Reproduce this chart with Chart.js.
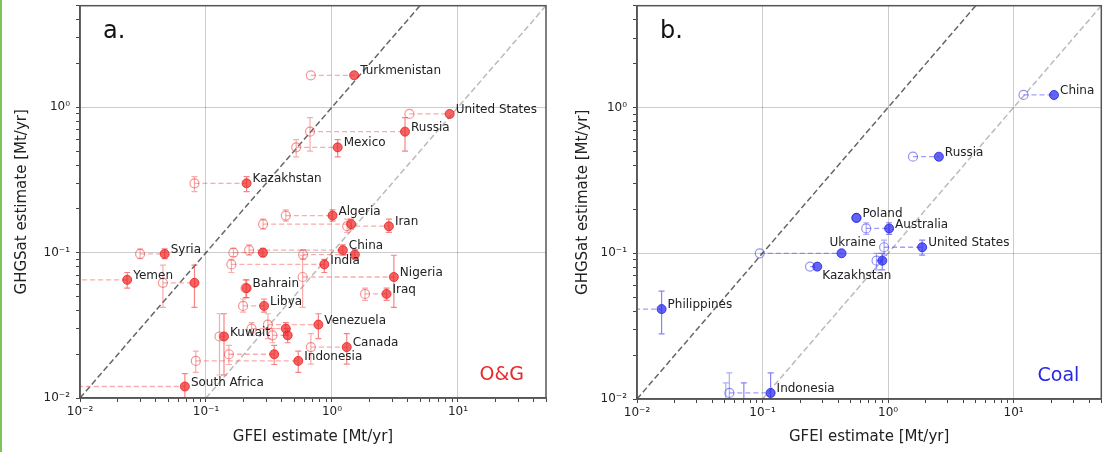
<!DOCTYPE html>
<html>
<head>
<meta charset="utf-8">
<script src="https://cdn.jsdelivr.net/npm/chart.js@4.4.1/dist/chart.umd.min.js"></script>
<style>
  body { margin: 0; background: #fff; width: 1107px; height: 452px; overflow: hidden; position: relative; }
  #edge { position: absolute; left: 0; top: 0; width: 2px; height: 452px; background: #7cc45a; }
  #ca { position: absolute; left: 0; top: 0; }
  #cb { position: absolute; left: 556px; top: 0; }
</style>
</head>
<body>
<div id="edge"></div>
<canvas id="ca" width="553" height="452"></canvas>
<canvas id="cb" width="551" height="452"></canvas>
<script>
// panel a: oil & gas
var ogNames   = ['Turkmenistan','United States','Russia','Mexico','Kazakhstan','Algeria','','Iran','Syria','Yemen','','China','','','India','Nigeria','Iraq','Bahrain','Libya','Kuwait','Venezuela','','','Canada','Indonesia','','South Africa'];
var ogOpenX   = [0.68, 4.12, 0.67, 0.52, 0.081, 0.43, 0.284, 1.32, 0.030, 0.005, 0.0455, 0.22, 0.165, 0.59, 0.159, 0.585, 1.83, 0.206, 0.197, 0.128, 0.31, 0.23, 0.337, 0.68, 0.083, 0.152, 0.004];
var ogFilledX = [1.50, 8.6, 3.8, 1.11, 0.21, 1.01, 1.42, 2.83, 0.047, 0.0237, 0.081, 1.22, 0.283, 1.52, 0.87, 3.1, 2.71, 0.21, 0.289, 0.139, 0.78, 0.43, 0.445, 1.31, 0.54, 0.348, 0.068];
var ogY       = [1.66, 0.90, 0.68, 0.53, 0.30, 0.180, 0.157, 0.152, 0.098, 0.065, 0.062, 0.104, 0.100, 0.097, 0.083, 0.068, 0.052, 0.057, 0.043, 0.0265, 0.032, 0.030, 0.027, 0.0224, 0.018, 0.020, 0.012];
var ogLo      = [1.66, 0.90, 0.50, 0.456, 0.263, 0.165, 0.145, 0.138, 0.091, 0.057, 0.042, 0.096, 0.094, 0.090, 0.073, 0.042, 0.047, 0.049, 0.039, 0.0144, 0.0256, 0.027, 0.024, 0.0171, 0.015, 0.017, 0.0095];
var ogHi      = [1.66, 0.90, 0.85, 0.60, 0.333, 0.197, 0.170, 0.170, 0.106, 0.073, 0.082, 0.113, 0.107, 0.105, 0.090, 0.096, 0.057, 0.065, 0.048, 0.038, 0.038, 0.033, 0.030, 0.0277, 0.021, 0.023, 0.0147];

// panel b: coal
var coalNames   = ['China','Russia','Poland','Australia','United States','Ukraine','Kazakhstan','','Philippines','Indonesia',''];
var coalOpenX   = [12.0, 1.58, 0.56, 0.67, 0.93, 0.095, 0.239, 0.81, 0.004, 0.0544, 0.051];
var coalFilledX = [21, 2.54, 0.56, 1.02, 1.87, 0.426, 0.273, 0.90, 0.0157, 0.116, 0.071];
var coalY       = [1.22, 0.46, 0.175, 0.148, 0.11, 0.100, 0.081, 0.089, 0.0414, 0.011, 0.0092];
var coalLo      = [1.22, 0.46, 0.175, 0.135, 0.097, 0.100, 0.081, 0.077, 0.028, 0.0085, 0.0075];
var coalHi      = [1.22, 0.46, 0.175, 0.162, 0.123, 0.100, 0.081, 0.100, 0.055, 0.0151, 0.0129];

// reference lines (1:1 and 10:1)
var diagDark  = [[0.01, 0.01], [5, 5]];
var diagLight = [[0.1, 0.01], [50, 5]];

var decades = [0.01, 0.1, 1, 10];
var decadeLabels = ['10\u207B\u00B2', '10\u207B\u00B9', '10\u2070', '10\u00B9'];

var FONT = 'DejaVu Sans';

function decadeIndex(v) {
  for (var i = 0; i < decades.length; i++) {
    if (Math.abs(v / decades[i] - 1) < 1e-6) return i;
  }
  return -1;
}

function logTicks(scale) {
  var t = [];
  for (var d = 0; d < decades.length; d++) {
    for (var k = 1; k <= 9; k++) {
      var v = decades[d] * k;
      if (v >= scale.min - 1e-9 && v <= scale.max + 1e-9) t.push({ value: v });
    }
  }
  scale.ticks = t;
}

function overlayPlugin(p) {
  return {
    id: 'overlay',
    afterDatasetsDraw: function (chart) {
      var xs = chart.scales.x, ys = chart.scales.y, ctx = chart.ctx, a = chart.chartArea;
      ctx.save();
      ctx.beginPath();
      ctx.rect(a.left, a.top, a.right - a.left, a.bottom - a.top);
      ctx.clip();
      ctx.lineWidth = 1.2;
      [[p.openX, p.openBar], [p.filledX, p.filledBar]].forEach(function (s) {
        ctx.strokeStyle = s[1];
        for (var i = 0; i < p.y.length; i++) {
          if (p.lo[i] === p.hi[i]) continue;
          var x = xs.getPixelForValue(s[0][i]);
          var y1 = ys.getPixelForValue(p.lo[i]);
          var y2 = ys.getPixelForValue(p.hi[i]);
          ctx.beginPath();
          ctx.moveTo(x, y1); ctx.lineTo(x, y2);
          ctx.moveTo(x - 3, y1); ctx.lineTo(x + 3, y1);
          ctx.moveTo(x - 3, y2); ctx.lineTo(x + 3, y2);
          ctx.stroke();
        }
      });
      ctx.restore();

      // frame on top and right
      ctx.save();
      ctx.strokeStyle = '#555';
      ctx.lineWidth = 1.5;
      ctx.strokeRect(a.left, a.top, a.right - a.left, a.bottom - a.top);
      ctx.restore();

      // country labels
      ctx.save();
      ctx.font = '12px "' + FONT + '"';
      ctx.fillStyle = '#222';
      ctx.textAlign = 'left';
      ctx.textBaseline = 'middle';
      for (var j = 0; j < p.names.length; j++) {
        if (!p.names[j]) continue;
        var off = p.offsets[p.names[j]] || [6, -4];
        ctx.fillText(p.names[j], xs.getPixelForValue(p.filledX[j]) + off[0], ys.getPixelForValue(p.y[j]) + off[1]);
      }
      // panel letter and sector tag
      ctx.font = '24px "' + FONT + '"';
      ctx.fillStyle = '#111';
      ctx.textBaseline = 'alphabetic';
      ctx.fillText(p.letter, a.left + 23, a.top + 32);
      ctx.font = '19px "' + FONT + '"';
      ctx.fillStyle = p.tagColor;
      ctx.textAlign = 'right';
      ctx.fillText(p.tag, a.right - 22, a.bottom - 18);
      ctx.restore();
    }
  };
}

function makeChart(id, d) {
  var datasets = [];
  datasets.push({
    data: d.filledX.map(function (x, i) { return { x: x, y: d.y[i] }; }),
    pointRadius: 4.5, pointBackgroundColor: d.filledFill, pointBorderColor: d.filledEdge, pointBorderWidth: 1
  });
  datasets.push({
    data: d.openX.map(function (x, i) { return { x: x, y: d.y[i] }; }),
    pointRadius: 4.5, pointBackgroundColor: 'rgba(255,255,255,0)', pointBorderColor: d.openEdge, pointBorderWidth: 1.2
  });
  for (var i = 0; i < d.y.length; i++) {
    datasets.push({
      data: [{ x: d.openX[i], y: d.y[i] }, { x: d.filledX[i], y: d.y[i] }],
      showLine: true, pointRadius: 0, borderColor: d.segColor, borderWidth: 1.3, borderDash: [5, 3]
    });
  }
  datasets.push({
    data: diagDark.map(function (p) { return { x: p[0], y: p[1] }; }),
    showLine: true, pointRadius: 0, borderColor: 'rgba(0,0,0,0.6)', borderWidth: 1.5, borderDash: [6, 3]
  });
  datasets.push({
    data: diagLight.map(function (p) { return { x: p[0], y: p[1] }; }),
    showLine: true, pointRadius: 0, borderColor: 'rgba(0,0,0,0.27)', borderWidth: 1.5, borderDash: [6, 3]
  });

  var gridColor = function (c) {
    return c.tick && decadeIndex(c.tick.value) >= 0 ? 'rgba(0,0,0,0.2)' : 'rgba(0,0,0,0)';
  };
  var tickCb = function (v) {
    var k = decadeIndex(v);
    return k >= 0 ? decadeLabels[k] : '';
  };

  return new Chart(document.getElementById(id), {
    type: 'scatter',
    data: { datasets: datasets },
    options: {
      responsive: false,
      animation: false,
      events: [],
      layout: { padding: { left: 0, right: d.padRight, top: 5, bottom: 0 } },
      plugins: { legend: { display: false }, tooltip: { enabled: false } },
      scales: {
        x: {
          type: 'logarithmic', min: 0.01, max: 50,
          afterBuildTicks: logTicks,
          afterFit: function (s) { s.height = d.xHeight; s.paddingLeft = 0; s.paddingRight = 0; },
          grid: { color: gridColor, tickColor: '#444', tickLength: 4 },
          border: { display: true, color: '#555', width: 1.5 },
          ticks: { autoSkip: false, maxRotation: 0, padding: 3, color: '#222', font: { family: FONT, size: 12 }, callback: tickCb },
          title: { display: true, text: 'GFEI estimate [Mt/yr]', color: '#222', font: { family: FONT, size: 15 }, padding: { top: 0, bottom: 6 } }
        },
        y: {
          type: 'logarithmic', min: 0.01, max: 5,
          afterBuildTicks: logTicks,
          afterFit: function (s) { s.width = d.yWidth; s.paddingTop = 0; s.paddingBottom = 0; },
          grid: { color: gridColor, tickColor: '#444', tickLength: 4 },
          border: { display: true, color: '#555', width: 1.5 },
          ticks: { autoSkip: false, padding: 6, color: '#222', font: { family: FONT, size: 12 }, callback: tickCb },
          title: { display: true, text: 'GHGSat estimate [Mt/yr]', color: '#222', font: { family: FONT, size: 15 }, padding: { top: d.yTitlePad, bottom: 0 } }
        }
      }
    },
    plugins: [overlayPlugin({
      names: d.names, openX: d.openX, filledX: d.filledX, y: d.y, lo: d.lo, hi: d.hi,
      openBar: d.openBar, filledBar: d.filledBar, offsets: d.offsets,
      letter: d.letter, tag: d.tag, tagColor: d.tagColor
    })]
  });
}

makeChart('ca', {
  names: ogNames, openX: ogOpenX, filledX: ogFilledX, y: ogY, lo: ogLo, hi: ogHi,
  filledFill: 'rgba(240,40,40,0.72)', filledEdge: 'rgba(230,30,30,0.8)', openEdge: 'rgba(240,60,60,0.55)',
  segColor: 'rgba(245,90,90,0.5)', openBar: 'rgba(240,70,70,0.45)', filledBar: 'rgba(240,50,50,0.6)',
  offsets: {}, letter: 'a.', tag: 'O&G', tagColor: '#e8282a',
  padRight: 7, xHeight: 54, yWidth: 80, yTitlePad: 13
});

makeChart('cb', {
  names: coalNames, openX: coalOpenX, filledX: coalFilledX, y: coalY, lo: coalLo, hi: coalHi,
  filledFill: 'rgba(40,40,240,0.72)', filledEdge: 'rgba(30,30,230,0.8)', openEdge: 'rgba(60,60,240,0.55)',
  segColor: 'rgba(80,80,240,0.55)', openBar: 'rgba(70,70,240,0.45)', filledBar: 'rgba(50,50,240,0.6)',
  offsets: { 'Ukraine': [-12, -10], 'Kazakhstan': [5, 9] }, letter: 'b.', tag: 'Coal', tagColor: '#2828e0',
  padRight: 3, xHeight: 53, yWidth: 81, yTitlePad: 18
});
</script>
</body>
</html>
